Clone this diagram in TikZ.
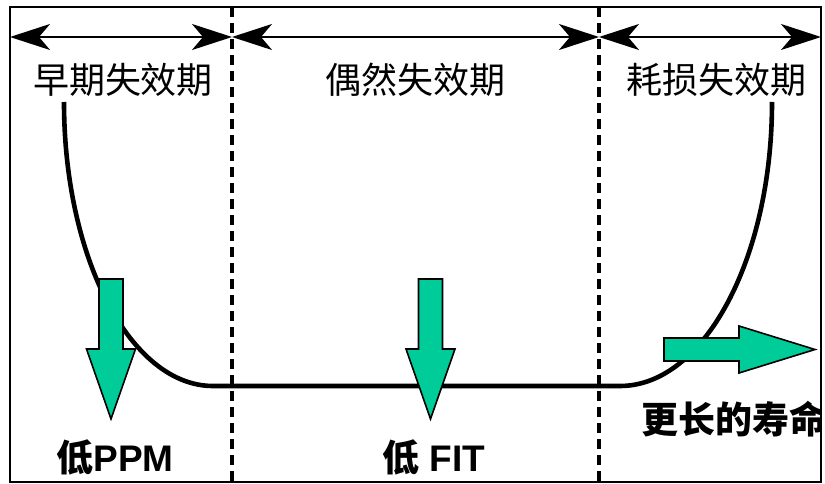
\documentclass[tikz,border=0pt]{standalone}
\usepackage{fontspec}
\setmainfont{Liberation Sans}
\newfontfamily\cjk{Noto Sans CJK SC}
\usetikzlibrary{arrows.meta}
\definecolor{tealgreen}{HTML}{00CC99}
\tikzset{
  frame/.style={line width=2pt},
  divider/.style={line width=3.2pt, dash pattern=on 10pt off 6pt},
  span/.style={line width=2pt, {Stealth[length=40pt,width=26pt,inset=11pt]}-{Stealth[length=40pt,width=26pt,inset=11pt]}},
  curve/.style={line width=4.6pt},
  garrow/.style={fill=tealgreen, draw=black, line width=1.6pt, line join=miter},
  phase/.style={font=\cjk\fontsize{36}{40}\selectfont, inner sep=0pt},
  result/.style={font=\bfseries\fontsize{37}{40}\selectfont, inner sep=0pt},
}
\begin{document}
\begin{tikzpicture}[x=1pt,y=-1pt]
\useasboundingbox (0,0) rectangle (825,484);
% frame corners and dividers
\coordinate (tl) at (10,7);
\coordinate (br) at (821,482);
\coordinate (d1t) at (232,7);
\coordinate (d1b) at (232,482);
\coordinate (d2t) at (599,7);
\coordinate (d2b) at (599,482);
% span arrow ends
\coordinate (s0) at (10,37);
\coordinate (s1) at (232,37);
\coordinate (s2) at (599,37);
\coordinate (s3) at (821,37);
% curve points
\coordinate (c0) at (64,102);
\coordinate (c0a) at (64,259);
\coordinate (c0b) at (131,386);
\coordinate (c1) at (213,386);
\coordinate (c2) at (620,386);
\coordinate (c2a) at (704,386);
\coordinate (c2b) at (772,259);
\coordinate (c3) at (772,102);

% bathtub curve
\draw[curve] (c0) .. controls (c0a) and (c0b) .. (c1) -- (c2) .. controls (c2a) and (c2b) .. (c3);

% dividers
\draw[divider] (d1t) -- (d1b);
\draw[divider] (d2t) -- (d2b);

% span arrows
\draw[span] (s0) -- (s1);
\draw[span] (s1) -- (s2);
\draw[span] (s2) -- (s3);

% phase labels
\node[phase] (p1) at (123,80) {早期失效期};
\node[phase] (p2) at (415,80) {偶然失效期};
\node[phase] (p3) at (716,80) {耗损失效期};

% green arrows
\draw[garrow] (111,419) -- (86.5,349) -- (99,349) -- (99,279) -- (123,279) -- (123,349) -- (135.5,349) -- cycle;
\draw[garrow] (430.5,419) -- (406,349) -- (418.5,349) -- (418.5,279) -- (442.5,279) -- (442.5,349) -- (455,349) -- cycle;
\draw[garrow] (815,349.5) -- (739,326) -- (739,338) -- (664,338) -- (664,361) -- (739,361) -- (739,373) -- cycle;

% result labels
\node[result] (r1) at (115,457) {{\cjk 低}PPM};
\node[result] (r2) at (434,457) {{\cjk 低} FIT};
\begin{scope}
\clip (tl) rectangle (br);
\node[result, anchor=west] (r3) at (641,419) {\cjk 更长的寿命};
\end{scope}

% frame
\draw[frame] (tl) rectangle (br);
\end{tikzpicture}
\end{document}
